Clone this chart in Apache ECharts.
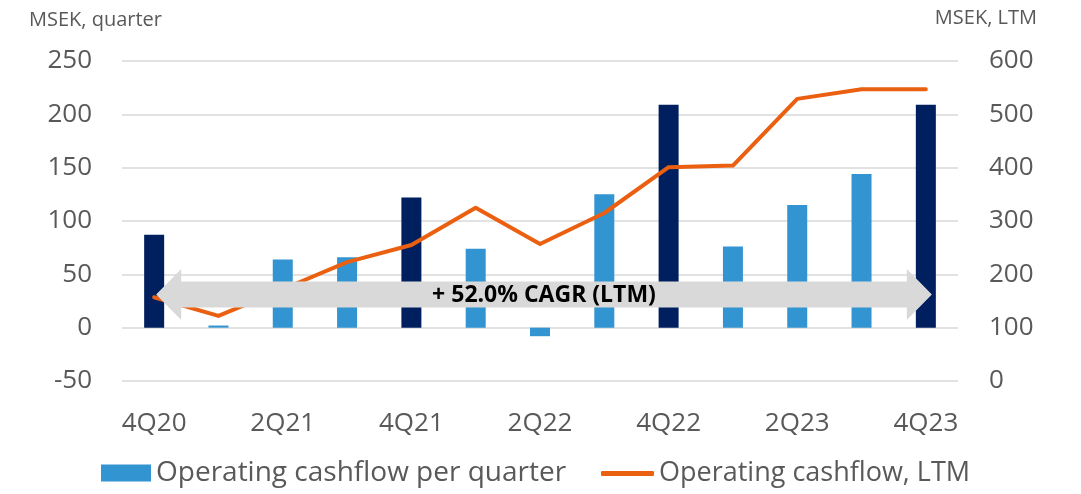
<!DOCTYPE html>
<html>
<head>
<meta charset="utf-8">
<script src="https://cdn.jsdelivr.net/npm/echarts@6/dist/echarts.min.js"></script>
<style>
  html, body { margin: 0; padding: 0; background: #fff; }
  #chart { width: 1081px; height: 494px; }
</style>
</head>
<body>
<div id="chart"></div>
<script>
// quarters on the x axis
const quarters = ["4Q20", "1Q21", "2Q21", "3Q21", "4Q21", "1Q22", "2Q22", "3Q22", "4Q22", "1Q23", "2Q23", "3Q23", "4Q23"];
// MSEK per quarter (left axis)
const cashflowQuarter = [87, 2, 64, 66, 122, 74, -8, 125, 209, 76, 115, 144, 209];
// MSEK rolling twelve months (right axis)
const cashflowLtm = [157, 122, 172, 223, 255, 325, 257, 315, 401, 404, 529, 547, 547];
const cagrLabel = "+ 52.0% CAGR (LTM)";

const FONT = "'Open Sans', sans-serif";
const GREY_TEXT = "#595959";
const LIGHT_BLUE = "#3294d1";
const NAVY = "#001f5f";
const ORANGE = "#ea6010";

const chart = echarts.init(document.getElementById("chart"));

chart.setOption({
  animation: false,
  textStyle: { fontFamily: FONT },
  title: [
    { text: "MSEK, quarter", left: 24, top: 5, textStyle: { fontSize: 20, fontWeight: "normal", color: GREY_TEXT, fontFamily: FONT } },
    { text: "MSEK, LTM", right: 39, top: 3, textStyle: { fontSize: 20, fontWeight: "normal", color: GREY_TEXT, fontFamily: FONT } }
  ],
  legend: [
    {
      left: 96,
      bottom: 2,
      itemWidth: 50,
      itemHeight: 17,
      textStyle: { fontSize: 28, color: GREY_TEXT, fontFamily: FONT },
      data: [{ name: "Operating cashflow per quarter", icon: "rect", itemStyle: { color: LIGHT_BLUE } }]
    },
    {
      left: 596,
      bottom: 2,
      itemWidth: 53,
      itemHeight: 5,
      textStyle: { fontSize: 27, color: GREY_TEXT, fontFamily: FONT },
      data: [{ name: "Operating cashflow, LTM", icon: "roundRect", itemStyle: { color: ORANGE } }]
    }
  ],
  grid: { left: 122, right: 123, top: 61, bottom: 113 },
  xAxis: {
    type: "category",
    data: quarters,
    axisLine: { show: false, onZero: false },
    axisTick: { show: false },
    axisLabel: { interval: 1, fontSize: 26, color: GREY_TEXT, margin: 30 }
  },
  yAxis: [
    {
      type: "value",
      min: -50,
      max: 250,
      interval: 50,
      axisLabel: { fontSize: 26, color: GREY_TEXT, margin: 30 },
      splitLine: { lineStyle: { color: "#d9d9d9", width: 1.5 } }
    },
    {
      type: "value",
      min: 0,
      max: 600,
      interval: 100,
      axisLabel: { fontSize: 26, color: GREY_TEXT, margin: 31 },
      splitLine: { show: false }
    }
  ],
  series: [
    {
      name: "Operating cashflow per quarter",
      type: "bar",
      barWidth: 20,
      data: cashflowQuarter.map((v, i) => ({
        value: v,
        itemStyle: { color: quarters[i].startsWith("4Q") ? NAVY : LIGHT_BLUE }
      })),
      itemStyle: { color: LIGHT_BLUE }
    },
    {
      name: "Operating cashflow, LTM",
      type: "line",
      yAxisIndex: 1,
      data: cashflowLtm,
      symbol: "none",
      lineStyle: { color: ORANGE, width: 4, cap: "round", join: "round" },
      itemStyle: { color: ORANGE }
    }
  ]
});

// grey double arrow with the CAGR label, anchored to the first and last quarter
function drawArrow() {
  const xL = chart.convertToPixel({ xAxisIndex: 0 }, quarters[0]) + 2;
  const xR = chart.convertToPixel({ xAxisIndex: 0 }, quarters[quarters.length - 1]) + 6;
  const yC = chart.convertToPixel({ yAxisIndex: 0 }, 31);
  const body = 13, head = 25.5, headLen = 25;
  chart.setOption({
    graphic: [
      {
        type: "polygon",
        z: 100,
        shape: {
          points: [
            [xL, yC],
            [xL + headLen, yC - head],
            [xL + headLen, yC - body],
            [xR - headLen, yC - body],
            [xR - headLen, yC - head],
            [xR, yC],
            [xR - headLen, yC + head],
            [xR - headLen, yC + body],
            [xL + headLen, yC + body],
            [xL + headLen, yC + head]
          ]
        },
        style: { fill: "#d9d9d9" }
      },
      {
        type: "text",
        z: 101,
        x: (xL + xR) / 2,
        y: yC + 1,
        style: {
          text: cagrLabel,
          fill: "#000",
          font: "bold 23px 'Open Sans', sans-serif",
          align: "center",
          verticalAlign: "middle"
        }
      }
    ]
  });
}
drawArrow();
</script>
</body>
</html>
